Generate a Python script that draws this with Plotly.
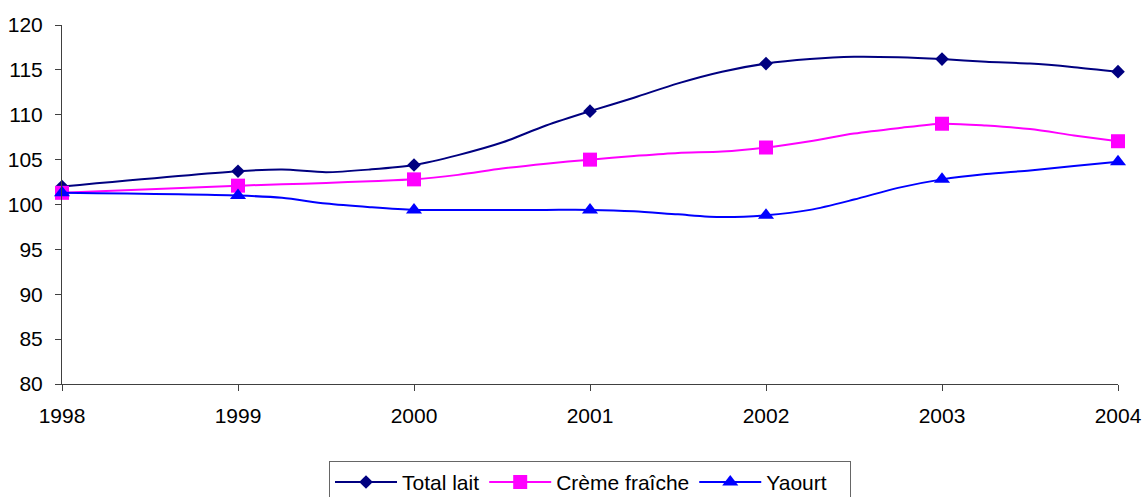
import plotly.graph_objects as go

x_vals = [1998, 1999, 1999.25, 1999.5, 1999.75, 2000, 2000.25, 2000.5, 2000.75,
          2001, 2001.25, 2001.5, 2001.75, 2002, 2002.25, 2002.5, 2002.75,
          2003, 2003.25, 2003.5, 2003.75, 2004]

total_lait = [102.0, 103.7, 103.9, 103.6, 103.9, 104.4, 105.5, 106.9, 108.8,
              110.4, 111.9, 113.5, 114.8, 115.7, 116.2, 116.45, 116.4,
              116.2, 115.9, 115.7, 115.3, 114.8]
creme_fraiche = [101.3, 102.1, 102.25, 102.4, 102.6, 102.8, 103.3, 104.0, 104.55,
                 105.0, 105.4, 105.75, 105.9, 106.35, 107.05, 107.9, 108.5,
                 109.0, 108.8, 108.4, 107.7, 107.05]
yaourt = [101.3, 101.0, 100.75, 100.1, 99.7, 99.4, 99.4, 99.4, 99.4,
          99.4, 99.25, 98.9, 98.6, 98.8, 99.4, 100.55, 101.85,
          102.8, 103.4, 103.8, 104.3, 104.75]

year_ticks = [1998, 1999, 2000, 2001, 2002, 2003, 2004]
year_labels = ["1998", "1999", "2000", "2001", "2002", "2003", "2004"]
y_ticks = [80, 85, 90, 95, 100, 105, 110, 115, 120]

series = [
    ("Total lait", total_lait, "#000080", "diamond", 10.5),
    ("Crème fraîche", creme_fraiche, "#FF00FF", "square", 14),
    ("Yaourt\u00a0\u00a0\u00a0", yaourt, "#0000FF", "triangle-up", 14),
]

fig = go.Figure()
for name, vals, color, symbol, size in series:
    mcolors = [color if xv in year_ticks else "rgba(0,0,0,0)" for xv in x_vals]
    fig.add_trace(go.Scatter(
        x=x_vals, y=vals, name=name, mode="lines+markers",
        line=dict(color=color, width=2, shape="spline", smoothing=0.8),
        marker=dict(symbol=symbol, size=size, color=mcolors, line=dict(width=0)),
        cliponaxis=False,
    ))

fig.update_layout(
    width=1144, height=497,
    margin=dict(l=62, r=26, t=25, b=113, autoexpand=False),
    plot_bgcolor="white", paper_bgcolor="white",
    font=dict(family="Liberation Sans, Arial, sans-serif", size=21, color="black"),
    showlegend=True,
    legend=dict(
        orientation="h", x=0.5, xanchor="center", y=-0.214, yanchor="top",
        bordercolor="#666666", borderwidth=1, bgcolor="white",
        font=dict(size=21), itemwidth=62, tracegroupgap=0,
    ),
)
fig.update_xaxes(
    range=[1998, 2004], tickvals=year_ticks, ticktext=year_labels,
    showgrid=False, zeroline=False, showline=True, linecolor="#404040", linewidth=1,
    ticks="outside", ticklen=6, tickcolor="#404040", ticklabelstandoff=7,
    automargin=False,
)
fig.update_yaxes(
    range=[80, 120], tickvals=y_ticks,
    showgrid=False, zeroline=False, showline=True, linecolor="#404040", linewidth=1,
    ticks="outside", ticklen=6, tickcolor="#404040", ticklabelstandoff=8,
    automargin=False,
)

fig.write_html(
    "out.html",
    config={"displayModeBar": False},
    post_script="document.body.style.margin='0';document.body.style.overflow='hidden';",
)
